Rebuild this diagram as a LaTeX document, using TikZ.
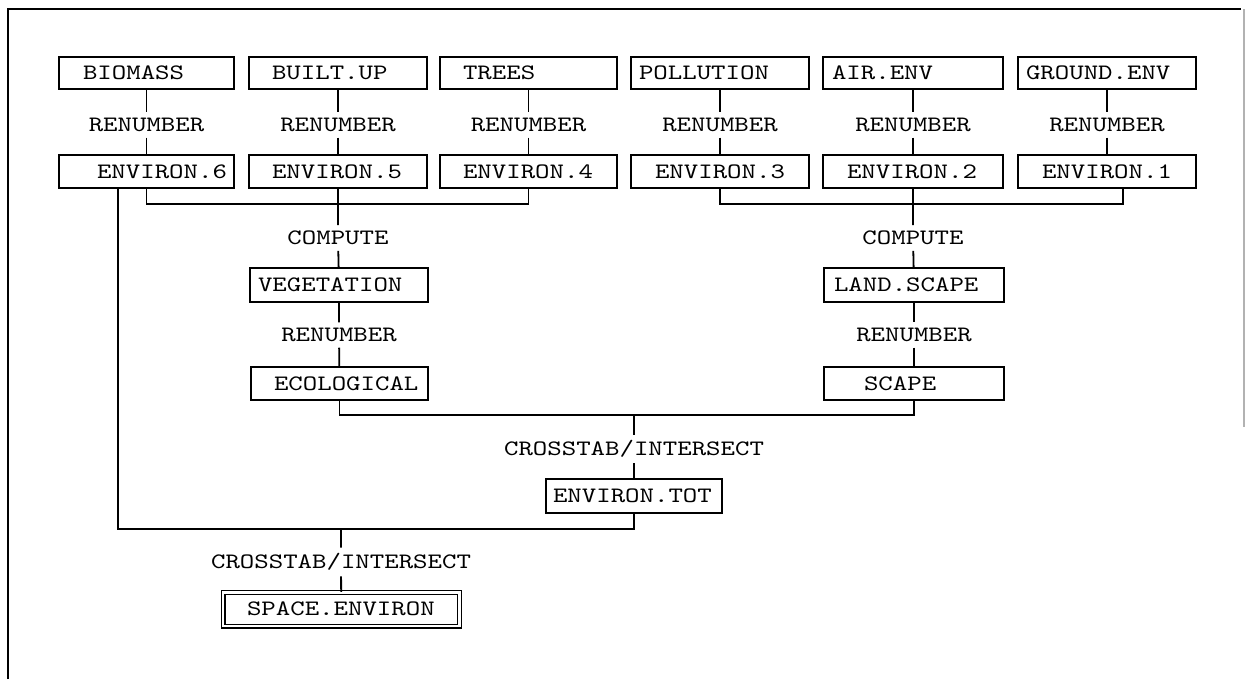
\documentclass[tikz,border=0pt]{standalone}
\usepackage{fontspec}
\newfontfamily\boxfont[FakeStretch=1.25]{lmmono10-regular.otf}
\usepackage{tikz}
\newcommand{\dataset}[8][layer] {
    \pgfmathsetmacro{\bw}{(#4-#3)*0.5}
    \pgfmathsetmacro{\bh}{(#6-#5)*0.5}
    \pgfmathsetmacro{\bi}{(#7-#3)*0.5}
    \node[#1,text width=\bw pt,minimum height=\bh pt] (#2) at ({(#3+#4)/2}, {(#5+#6)/2}) {\hspace*{\bi pt}#8};
}
\tikzset{
    layer/.style={
        draw,
        line width=0.9pt,
        inner xsep=0pt,
        align=left,
        font=\boxfont\fontsize{11}{13}\selectfont
    },
    result/.style={
        layer,
        line width=0.6pt,
        double,
        double distance=1.3pt
    },
    op/.style={
        inner sep=2.5pt,
        font=\boxfont\fontsize{11}{13}\selectfont
    }
}

\begin{document}
\begin{tikzpicture}[x=0.5pt,y=-0.5pt,line width=0.9pt]
        \useasboundingbox (0,0) rectangle (1245,679);
        % frame
        \draw[line width=1pt] (8,679) -- (8,9) -- (1241,9);
        \draw[gray!60,line width=0.6pt] (1244,9) -- (1244,427);
        % input maps
        \dataset{biomass}{59}{234}{57}{89}{83}{BIOMASS}
        \dataset{builtup}{249}{427}{57}{89}{272}{BUILT.UP}
        \dataset{trees}{440}{617}{57}{89}{463}{TREES}
        \dataset{pollution}{631}{809}{57}{89}{639}{POLLUTION}
        \dataset{airenv}{823}{1003}{57}{89}{832}{AIR.ENV}
        \dataset{groundenv}{1018}{1196}{57}{89}{1026}{GROUND.ENV}
        % renumbered maps
        \dataset{env6}{59}{234}{155}{188}{97}{ENVIRON.6}
        \dataset{env5}{249}{427}{155}{188}{272}{ENVIRON.5}
        \dataset{env4}{440}{617}{155}{188}{463}{ENVIRON.4}
        \dataset{env3}{631}{809}{155}{188}{655}{ENVIRON.3}
        \dataset{env2}{823}{1003}{155}{188}{847}{ENVIRON.2}
        \dataset{env1}{1018}{1196}{155}{188}{1042}{ENVIRON.1}
        \foreach \src/\dst/\x [count=\i] in {
            biomass/env6/146.5,builtup/env5/338,trees/env4/528.5,
            pollution/env3/720,airenv/env2/913,groundenv/env1/1107
        } {
            \node[op] (rn\i) at (\x,125) {RENUMBER};
            \draw (\src) -- (rn\i) -- (\dst);
        }
        % left branch
        \dataset{veg}{250}{428}{268}{302}{258}{VEGETATION}
        \dataset{eco}{251}{428}{367}{400}{274}{ECOLOGICAL}
        \coordinate (lbus) at (338,204);
        \node[op] (cp1) at (338,238) {COMPUTE};
        \node[op] (rn7) at (339,335) {RENUMBER};
        \draw (env6.south) |- (lbus) -| (env4.south);
        \draw (env5) -- (cp1) -- (veg);
        \draw (veg) -- (rn7) -- (eco);
        % right branch
        \dataset{land}{824}{1004}{268}{302}{834}{LAND.SCAPE}
        \dataset{scape}{824}{1004}{367}{400}{864}{SCAPE}
        \coordinate (rbus) at (913,204);
        \node[op] (cp2) at (913,238) {COMPUTE};
        \node[op] (rn8) at (914,335) {RENUMBER};
        \draw (env3.south) |- (rbus) -| ([xshift=8pt]env1.south);
        \draw (env2) -- (cp2) -- (land);
        \draw (land) -- (rn8) -- (scape);
        % overlays
        \dataset{envtot}{546}{722}{479}{513}{553}{ENVIRON.TOT}
        \dataset[result]{space}{223}{459.5}{592.5}{626}{247}{SPACE.ENVIRON}
        \coordinate (mbus) at (634,415);
        \node[op] (cx1) at (634,449) {CROSSTAB/INTERSECT};
        \draw (eco.south) |- (mbus) -| (scape.south);
        \draw (mbus) -- (cx1) -- (envtot);
        \coordinate (lowbus) at (341,529);
        \node[op] (cx2) at (341,562) {CROSSTAB/INTERSECT};
        \draw ([xshift=-14.25pt]env6.south) |- (lowbus) -| (envtot.south);
        \draw (lowbus) -- (cx2) -- (space);
    \end{tikzpicture}
\end{document}
